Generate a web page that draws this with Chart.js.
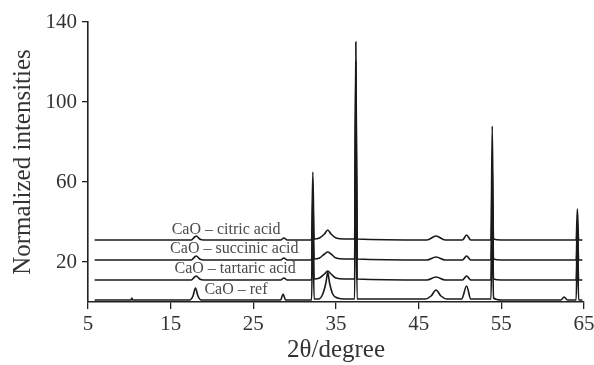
<!DOCTYPE html>
<html>
<head>
<meta charset="utf-8">
<script src="https://cdn.jsdelivr.net/npm/chart.js@4/dist/chart.umd.min.js"></script>
<style>
html,body{margin:0;padding:0;background:#fff;}
#wrap{width:594px;height:365px;position:relative;}
</style>
</head>
<body>
<div id="wrap"><canvas id="c" width="594" height="365"></canvas></div>
<script>
// ---- data (2θ in degrees, normalized intensity incl. vertical offset) ----
const seriesNames = ["CaO \u2013 ref", "CaO \u2013 tartaric acid", "CaO \u2013 succinic acid", "CaO \u2013 citric acid"];
const xTicks = [5, 15, 25, 35, 45, 55, 65];
const yTicks = [20, 60, 100, 140];

const refX = [5.8,10.2,10.3,10.4,17.3,17.7,18.0,18.3,18.7,28.3,28.6,28.9,32.05,32.2,32.35,32.9,33.4,33.8,34.0,34.2,34.6,35.2,36.0,37.25,37.4,37.55,45.8,46.5,47.1,47.7,48.4,50.2,50.8,51.3,53.75,53.9,54.05,55.0,62.2,62.6,63.0,64.05,64.2,64.35,64.8];
const refY = [1,1,2,1,1,3,7,3,1,1,4,1,1,40,1.5,1.5,4,10,15,10,4,2,1.5,1.5,85,1.5,1.5,3,6,3,1.5,1.5,8,1.5,1.5,42,2,1,1,2.5,1,1,30,1,1];

const tartX = [5.8,17.5,17.9,18.1,18.5,19.0,28.3,28.7,29.1,32.05,32.2,32.35,33.0,33.6,34.0,34.4,35.0,36.0,37.25,37.4,37.55,46.0,47.1,48.2,50.3,50.8,51.3,53.75,53.9,54.05,55.0,64.05,64.2,64.35,64.8];
const tartY = [11,11,12.5,13,11.5,11,11,12,11,11,45,11.5,12,14,15.5,14,12,11.5,11.5,106,11.5,11,12.5,11,11,13,11,11,53,11.5,11,11,35,11,11];

const succX = [5.8,17.5,17.9,18.1,18.5,19.0,28.3,28.7,29.1,32.05,32.2,32.35,33.0,33.6,34.0,34.4,35.0,36.0,37.25,37.4,37.55,46.0,47.1,48.2,50.3,50.8,51.3,53.75,53.9,54.05,55.0,64.05,64.2,64.35,64.8];
const succY = [21,21,22.5,23,21.5,21,21,22,21,21,55,21.5,22,24,25,24,22,21.5,21.5,120,21.5,21,22.5,21,21,23,21,21,70,21.5,21,21,40,21,21];

const citX = [5.8,17.5,17.9,18.1,18.5,19.0,28.3,28.7,29.1,32.05,32.2,32.35,33.0,33.6,34.0,34.4,35.0,36.0,37.25,37.4,37.55,46.0,47.1,48.2,50.3,50.8,51.3,53.75,53.9,54.05,55.0,64.05,64.2,64.35,64.8];
const citY = [31,31,32.5,33,31.5,31,31,32,31,31,65,31.5,32,34,36,34,32,31.5,31.5,130,31.5,31,33,31,31,33.5,31,31,88,31.5,31,31,46.5,31,31];

// label anchors (data coordinates)
const labelX = [22.9, 22.8, 22.7, 21.7];
const labelY = [6, 16.5, 26.5, 36];

function pts(xs, ys){ return xs.map((x,i)=>({x:x, y:ys[i]})); }

const serif = "'Liberation Serif','DejaVu Serif',serif";

const labelPlugin = {
  id: 'seriesLabels',
  afterDatasetsDraw(chart){
    const ctx = chart.ctx, xs = chart.scales.x, ys = chart.scales.y;
    ctx.save();
    ctx.font = "16px " + serif;
    ctx.fillStyle = "#4a4a4a";
    ctx.textAlign = "center";
    ctx.textBaseline = "middle";
    seriesNames.forEach((n,i)=>{
      ctx.fillText(n, xs.getPixelForValue(labelX[i]), ys.getPixelForValue(labelY[i]));
    });
    ctx.restore();
  }
};

const ds = [[refX,refY],[tartX,tartY],[succX,succY],[citX,citY]].map((a,i)=>({
  label: seriesNames[i],
  data: pts(a[0], a[1]),
  borderColor: "#1a1a1a",
  borderWidth: 1.6,
  pointRadius: 0,
  fill: false,
  cubicInterpolationMode: 'monotone'
}));

new Chart(document.getElementById('c'), {
  type: 'line',
  data: { datasets: ds },
  options: {
    responsive: false,
    animation: false,
    layout: { padding: { top: 22, right: 10, left: 0, bottom: 0 } },
    plugins: { legend: { display: false }, tooltip: { enabled: false } },
    scales: {
      x: {
        type: 'linear', min: 5, max: 65,
        afterBuildTicks: s => { s.ticks = xTicks.map(v=>({value:v})); },
        afterFit: s => { s.height = 63; s.paddingLeft = 0; s.paddingRight = 0; },
        ticks: { color: "#333", font: { family: serif, size: 21 }, padding: 3, maxRotation: 0 },
        grid: { display: true, drawOnChartArea: false, tickLength: 7, color: "#222", lineWidth: 1.3 },
        border: { display: true, color: "#222", width: 1.6 },
        title: { display: true, text: "2\u03b8/degree", color: "#333", font: { family: serif, size: 25 }, padding: { top: 0, bottom: 0 } }
      },
      y: {
        min: 0, max: 140,
        afterBuildTicks: s => { s.ticks = yTicks.map(v=>({value:v})); },
        afterFit: s => { s.width = 88; s.paddingTop = 0; s.paddingBottom = 0; },
        ticks: { color: "#333", font: { family: serif, size: 21 }, padding: 5 },
        grid: { display: true, drawOnChartArea: false, tickLength: 6, color: "#222", lineWidth: 1.3 },
        border: { display: true, color: "#222", width: 1.6 },
        title: { display: true, text: "Normalized intensities", color: "#333", font: { family: serif, size: 25 }, padding: { top: 8, bottom: 0 } }
      }
    }
  },
  plugins: [labelPlugin]
});
</script>
</body>
</html>
